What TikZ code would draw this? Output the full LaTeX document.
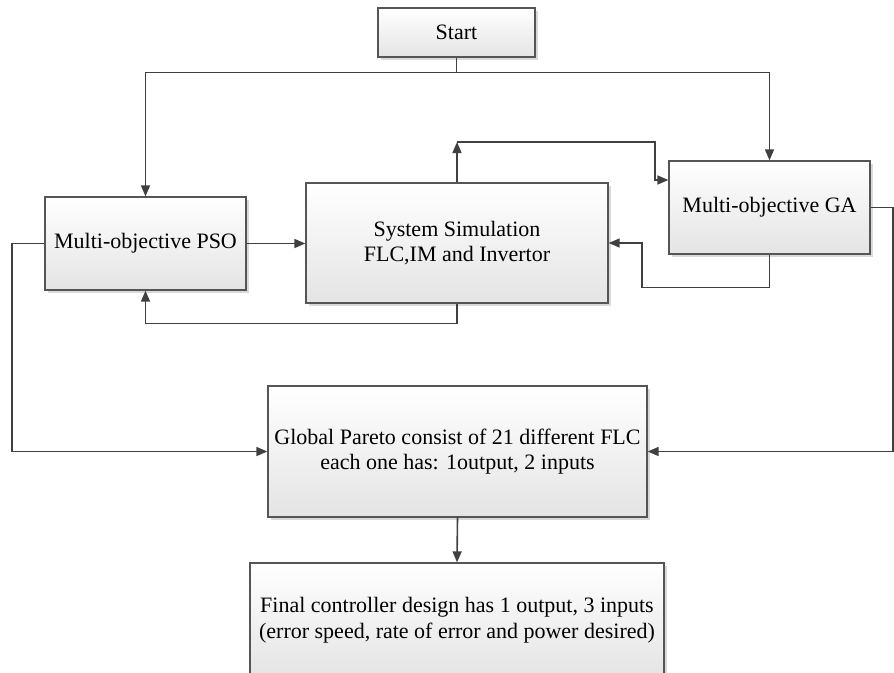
\documentclass[tikz,border=0pt]{standalone}
\usepackage{fontspec}
\setmainfont{Liberation Serif}
\usetikzlibrary{arrows.meta,shadows}
\definecolor{linec}{HTML}{404040}
\definecolor{boxc}{HTML}{555555}
\definecolor{botc}{HTML}{E4E4E4}
\begin{document}
\begin{tikzpicture}[x=1pt,y=-1pt,
  blk/.style={draw=boxc, line width=1.3pt, top color=white, bottom color=botc,
    drop shadow={shadow xshift=2.5pt, shadow yshift=-2.5pt, fill=black!25, opacity=0.6},
    align=center, inner sep=0pt, font=\rmfamily\fontsize{22}{25.5}\selectfont},
  arr/.style={draw=linec, line width=1.6pt, -{Triangle[length=11pt,width=9pt]}},
  ln/.style={draw=linec, line width=1.6pt}]
\clip (0,0) rectangle (894,672);
\useasboundingbox (0,0) rectangle (894,672);
\node[blk, minimum width=157pt, minimum height=49pt] (start) at (456.5,32.5) {Start};
\node[blk, minimum width=201pt, minimum height=93pt] (pso) at (145.5,243.5) {Multi-objective PSO};
\node[blk, minimum width=302pt, minimum height=120pt] (sim) at (457,243) {System Simulation\\FLC,IM and Invertor};
\node[blk, minimum width=201pt, minimum height=93pt] (ga) at (769.5,207.5) {Multi-objective GA};
\node[blk, minimum width=379pt, minimum height=131pt] (glob) at (457.5,451.5) {Global Pareto consist of 21 different FLC\\each one has: 1output, 2 inputs};
\node[blk, minimum width=414pt, minimum height=114pt] (final) at (457,620) {Final controller design has 1 output, 3 inputs\\ (error speed, rate of error and power desired)};
% start split
\draw[ln] (start.south) -- ++(0,15) coordinate (j);
\draw[arr] (j) -| (pso.north);
\draw[arr] (j) -| (ga.north);
% pso to sim
\draw[arr] (pso.east) -- (sim.west |- pso.east);
% sim top to GA
\coordinate (c1) at (457,142);
\draw[arr] (sim.north) -- (c1);
\draw[arr] (c1) -| (655,180) -- (ga.west |- 655,180);
% GA bottom to sim right
\draw[arr] (ga.south) -- ++(0,33) -| (642,243) -- (sim.east);
% sim bottom to pso bottom
\draw[arr] (sim.south) -- ++(0,20) -| (pso.south);
% GA right to global
\draw[arr] (ga.east) -- (893,207.5) |- (glob.east);
% PSO left to global
\draw[arr] (pso.west) -- (12,243.5) |- (glob.west);
% global to final
\draw[arr] (glob.south) -- (final.north);
\end{tikzpicture}
\end{document}
